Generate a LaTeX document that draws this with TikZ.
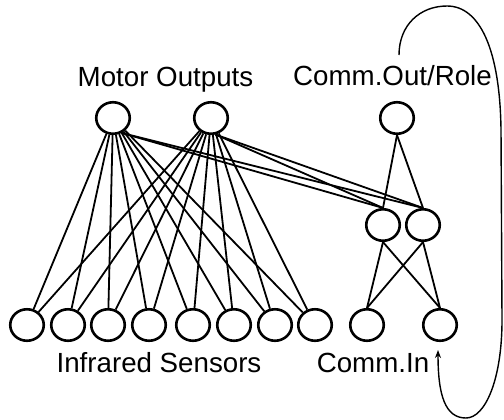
\documentclass[tikz,border=0pt]{standalone}
\usepackage{fontspec}
\setmainfont{Liberation Sans}
\usetikzlibrary{shapes.geometric,arrows.meta}
\begin{document}
\begin{tikzpicture}[x=1bp,y=-1bp,
  neuron/.style={ellipse,draw,line width=2.6bp,minimum width=33.5bp,minimum height=31.5bp,inner sep=0pt},
  conn/.style={line width=1.8bp},
  lbl/.style={font=\fontsize{27.7bp}{33bp}\selectfont,inner sep=0pt,anchor=base},
  feedback/.style={line width=1.4bp,-{Stealth[length=8bp,width=6bp]}}]
\useasboundingbox (0,0) rectangle (504,419);

% sensors
\foreach \i/\x in {1/27,2/68,3/108,4/149,5/193,6/234,7/275,8/315}
  \node[neuron] (s\i) at (\x,325) {};
\node[neuron] (i1) at (367,325) {};
\node[neuron] (i2) at (440,325) {};
% hidden
\node[neuron] (h1) at (383,225) {};
\node[neuron] (h2) at (423,225) {};
% outputs
\node[neuron] (m1) at (113,118) {};
\node[neuron] (m2) at (211,118) {};
\node[neuron] (c) at (397,118) {};

% labels
\node[lbl] (motorlbl) at (165.5,86) {Motor Outputs};
\node[lbl] (commoutlbl) at (392.5,85) {Comm.Out/Role};
\node[lbl] (irlbl) at (159,372) {Infrared Sensors};
\node[lbl] (comminlbl) at (373,372) {Comm.In};

% motor to sensors
\foreach \m in {m1,m2}
  \foreach \i in {1,...,8}
    \draw[conn] (\m) -- (s\i);
% motor to hidden
\draw[conn] (m1.-60) -- (h1.north);
\draw[conn] (m1.-60) -- (h2.north);
\draw[conn] (m2.-75) -- (h1.north);
\draw[conn] (m2.-75) -- (h2.north);
% comm out to hidden
\draw[conn] (c.south) -- (h1.north);
\draw[conn] (c.south) -- (h2.north);
% hidden to comm in
\draw[conn] (h1.south) -- (i1.north);
\draw[conn] (h1.south) -- (i2.north);
\draw[conn] (h2.south) -- (i1.north);
\draw[conn] (h2.south) -- (i2.north);

% feedback loop
\coordinate (fbstart) at (399,55);
\coordinate (fbend) at (438,350);
\draw[feedback] (fbstart) .. controls (399,25) and (420,6) .. (447,6)
  .. controls (480,6) and (500,50) .. (501,130) -- (502,320)
  .. controls (502,380) and (485,418) .. (466,418)
  .. controls (445,418) and (438,395) .. (fbend);
\end{tikzpicture}
\end{document}
